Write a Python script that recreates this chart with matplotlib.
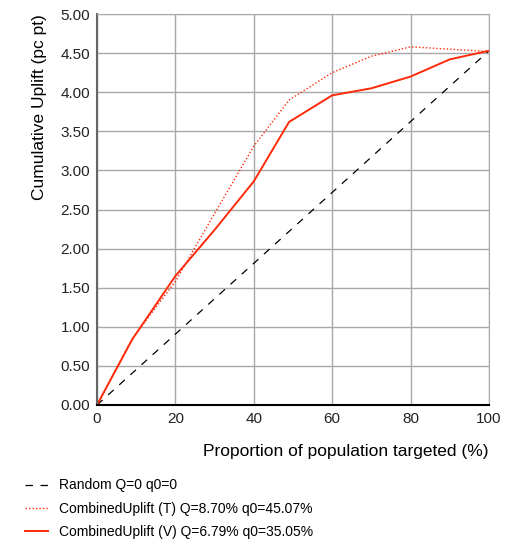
import matplotlib
matplotlib.use("Agg")
import matplotlib.pyplot as plt
import numpy as np

plt.rcParams["font.family"] = ["Liberation Sans", "DejaVu Sans"]

x_random = [0, 100]
y_random = [0.0, 4.53]

x_t = [0, 9, 20, 30, 40, 49, 60, 70, 80, 90, 100]
y_t = [0.0, 0.85, 1.58, 2.45, 3.31, 3.90, 4.25, 4.46, 4.58, 4.55, 4.52]

x_v = [0, 9, 20, 30, 40, 49, 60, 70, 80, 90, 100]
y_v = [0.0, 0.84, 1.65, 2.24, 2.86, 3.62, 3.96, 4.05, 4.20, 4.42, 4.53]

labels = [
    "Random Q=0 q0=0",
    "CombinedUplift (T) Q=8.70% q0=45.07%",
    "CombinedUplift (V) Q=6.79% q0=35.05%",
]

x_ticks = [0, 20, 40, 60, 80, 100]
y_ticks = np.arange(0, 5.01, 0.5)

fig = plt.figure(figsize=(5.15, 5.40), dpi=100)
ax = fig.add_axes([97 / 515, 1 - 405 / 540, (489 - 97) / 515, (405 - 14) / 540])

red = "#ff2a0a"
h1, = ax.plot(x_random, y_random, color="black", linestyle=(0, (6, 6)), linewidth=0.9)
h2, = ax.plot(x_t, y_t, color=red, linestyle=(0, (1, 1.5)), linewidth=1.0)
h3, = ax.plot(x_v, y_v, color=red, linewidth=1.4)

ax.set_xlim(0, 100)
ax.set_ylim(0, 5)
ax.set_xticks(x_ticks)
ax.set_yticks(y_ticks)
ax.set_yticklabels([f"{v:.2f}" for v in y_ticks])
ax.tick_params(length=0, labelsize=11, pad=5, colors="#222222")
ax.grid(True, color="#a8a8a8", linewidth=1.0)
ax.set_axisbelow(True)
for s in ("top", "right"):
    ax.spines[s].set_color("#a8a8a8")
ax.spines["left"].set_color("#666666")
ax.spines["left"].set_linewidth(1.5)
ax.spines["bottom"].set_color("black")
ax.spines["bottom"].set_linewidth(1.5)

ax.set_ylabel("Cumulative Uplift (pc pt)", fontsize=12.5, labelpad=10, loc="top")
ax.set_xlabel("Proportion of population targeted (%)", fontsize=12.5, labelpad=13, loc="right")

fig.legend(
    [h1, h2, h3],
    labels,
    loc="upper left",
    bbox_to_anchor=(12 / 515, 1 - 466 / 540),
    frameon=False,
    fontsize=10,
    handlelength=1.7,
    handletextpad=0.75,
    labelspacing=0.66,
)

fig.savefig("out.png", dpi=100)
